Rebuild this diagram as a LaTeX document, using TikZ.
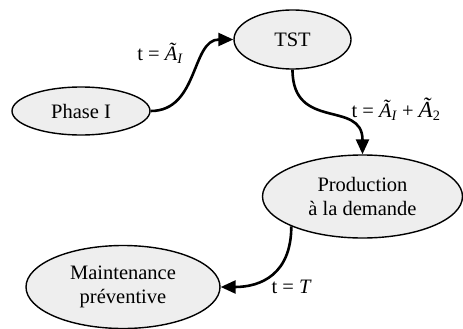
\documentclass[tikz,border=0pt]{standalone}
\usepackage{fontspec}
\setmainfont{Liberation Serif}
\usetikzlibrary{shapes.geometric,arrows.meta}
\begin{document}
\begin{tikzpicture}[x=1pt,y=-1pt,
  state/.style={ellipse,draw=black,line width=1.4pt,fill=gray!13,inner sep=0pt,align=center,
    font=\fontsize{20.5}{23.5}\selectfont},
  trans/.style={line width=2.6pt,-{Triangle[length=15pt,width=13pt]}},
  lbl/.style={font=\fontsize{20.5}{23.5}\selectfont,inner sep=0pt}]
\useasboundingbox (0,0) rectangle (463,329);
\node[state,minimum width=138pt,minimum height=48pt] (phase) at (81,111) {Phase I};
\node[state,minimum width=117pt,minimum height=59pt] (tst) at (292.5,39.5) {TST};
\node[state,minimum width=200pt,minimum height=83pt] (prod) at (362.5,196.5) {Production\\à la demande};
\node[state,minimum width=194pt,minimum height=83pt] (maint) at (123,287) {Maintenance\\préventive};
\draw[trans] (phase.east) .. controls +(48,0) and +(-42,0) .. (tst.west);
\draw[trans] (tst.south) .. controls +(0,62) and +(0,-55) .. (prod.north);
\draw[trans] (prod.south west) .. controls +(0,48) and +(40,0) .. (maint.east);
\node[lbl] (l1) at (160,53) {t = {\itshape Ã}\textsubscript{\itshape I}};
\node[lbl] (l2) at (396,109) {t = {\itshape Ã}\textsubscript{\itshape I} + {\fontsize{23}{23}\selectfont\itshape Ã}\textsubscript{2}};
\node[lbl] (l3) at (291,287) {t = {\itshape T}};
\end{tikzpicture}
\end{document}
